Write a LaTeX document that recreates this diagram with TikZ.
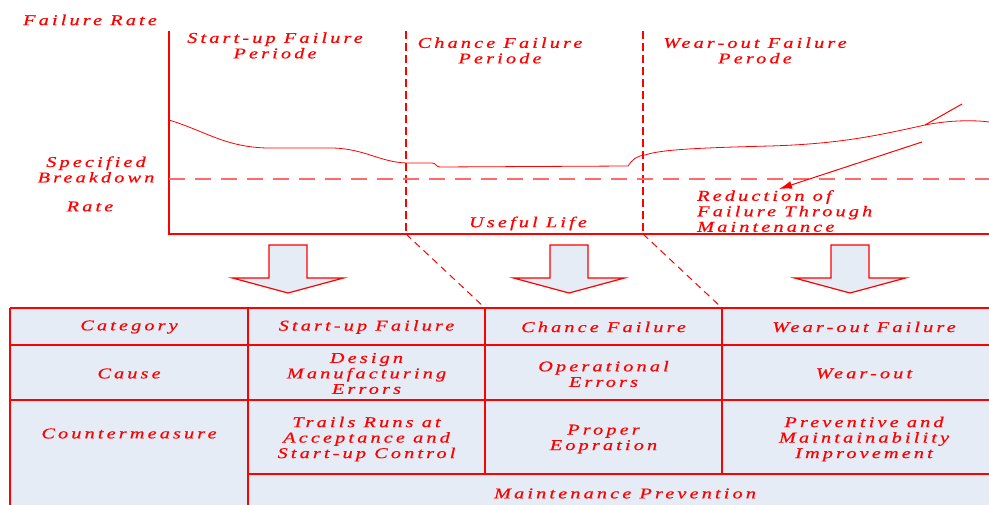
\documentclass[tikz,border=0pt]{standalone}
\usepackage{fontspec}
\setmainfont{Liberation Serif}
\newfontfamily\lblfont{Liberation Serif}[FakeStretch=1.35,LetterSpace=21,FakeBold=0.6]
\usetikzlibrary{arrows.meta}
\definecolor{rd}{HTML}{FF0000}
\definecolor{lrd}{HTML}{FF6A6A}
\definecolor{cellbg}{HTML}{E6ECF6}
\tikzset{
  lbl/.style={text=rd,font=\lblfont\itshape\fontsize{15}{15.5}\selectfont,inner sep=0pt,align=center},
  axisline/.style={draw=rd,line width=1.4pt},
  perdash/.style={draw=rd,line width=1.3pt,dash pattern=on 8pt off 4pt},
  specdash/.style={draw=lrd,line width=1.4pt,dash pattern=on 16pt off 10pt},
  diagdash/.style={draw=rd,line width=1pt,dash pattern=on 7pt off 5pt},
  curve/.style={draw=rd,line width=0.8pt},
  blockarrow/.style={draw=rd,fill=cellbg,line width=1.2pt,line join=miter},
  tabline/.style={draw=rd,line width=2pt},
  tablinev/.style={draw=rd,line width=2.6pt},
}
\begin{document}
\begin{tikzpicture}[x=1pt,y=-1pt]
\useasboundingbox (0,0) rectangle (989,505);
\clip (0,0) rectangle (989,505);
% ---------- chart ----------
\coordinate (ytop) at (169,31);
\coordinate (orig) at (169,234);
\coordinate (xend) at (989,234);
\draw[axisline] (ytop) -- (orig) -- (xend);
\coordinate (p1t) at (406,31);
\coordinate (p1b) at (406,234);
\coordinate (p2t) at (643,31);
\coordinate (p2b) at (643,234);
\draw[perdash] (p1t) -- (p1b);
\draw[perdash] (p2t) -- (p2b);
\coordinate (sbl) at (169,179);
\coordinate (sbr) at (989,179);
\draw[specdash] (sbl) -- (sbr);
% failure-rate curve
\draw[curve] (169,120) .. controls (205,131) and (225,147) .. (267,148)
  -- (333,148) .. controls (365,149) and (380,162) .. (406,163)
  -- (432,163) .. controls (436,163) and (436,167) .. (440,167)
  -- (628,166) .. controls (632,160) and (636,156) .. (645,155)
  .. controls (660,150) and (690,148) .. (770,146)
  .. controls (840,144) and (880,135) .. (925,125) coordinate (kink)
  .. controls (950,120) and (975,120) .. (989,122);
\coordinate (kinkend) at (962,104);
\draw[curve,line width=1pt] (kink) -- (kinkend);
\coordinate (redstart) at (922,142);
\coordinate (redend) at (779,189);
\draw[draw=rd,line width=1pt,-{Latex[length=13pt,width=8pt]}] (redstart) -- (redend);
% chart texts
\node[lbl] (fr) at (90,20) {Failure Rate};
\node[lbl] (sp) at (275,45.5) {Start-up Failure\\Periode};
\node[lbl] (cp) at (500,50.5) {Chance Failure\\Periode};
\node[lbl] (wp) at (755,50.5) {Wear-out Failure\\Perode};
\node[lbl] (sb) at (96,169.5) {Specified\\Breakdown};
\node[lbl] (rt) at (90,206.5) {Rate};
\node[lbl] (ul) at (528,223.5) {Useful Life};
\node[lbl,align=left,anchor=north west] (rf) at (697,190) {Reduction of\\Failure Through\\Maintenance};
% ---------- block arrows ----------
\foreach \cx/\nm in {288/ba1,569/ba2,850/ba3}{
  \draw[blockarrow] (\cx-19,245) -- (\cx+19,245) -- (\cx+19,278) -- (\cx+55.5,278)
    -- (\cx,293) -- (\cx-55.5,278) -- (\cx-19,278) -- cycle;
  \coordinate (\nm) at (\cx,293);
}
% ---------- table ----------
\fill[cellbg] (10,308) rectangle (1010,520);
\coordinate (tl) at (10,308);
\coordinate (c2t) at (248,308);
\coordinate (c3t) at (485,308);
\coordinate (c4t) at (722,308);
\draw[diagdash] (p1b) -- (c3t);
\draw[diagdash] (p2b) -- (c4t);
\draw[tabline] (10,308) -- (1010,308);
\draw[tabline] (10,345) -- (1010,345);
\draw[tabline] (10,400) -- (1010,400);
\draw[tabline] (248,474) -- (1010,474);
\draw[tablinev] (10,308) -- (10,520);
\draw[tablinev] (248,308) -- (248,520);
\draw[tablinev] (485,308) -- (485,474);
\draw[tablinev] (722,308) -- (722,474);
% table texts
\node[lbl] (h1) at (129,327) {Category};
\node[lbl] (h2) at (366.5,327) {Start-up Failure};
\node[lbl] (h3) at (603.5,327) {Chance Failure};
\node[lbl] (h4) at (864,327) {Wear-out Failure};
\node[lbl] (r1) at (129,373.5) {Cause};
\node[lbl] (r2) at (366.5,373.5) {Design\\Manufacturing\\Errors};
\node[lbl] (r3) at (603.5,374) {Operational\\Errors};
\node[lbl] (r4) at (864,373.5) {Wear-out};
\node[lbl] (s1) at (129,433.5) {Countermeasure};
\node[lbl] (s2) at (366.5,439) {Trails Runs at\\Acceptance and\\Start-up Control};
\node[lbl] (s3) at (603.5,439) {Proper\\Eopration};
\node[lbl] (s4) at (864,439) {Preventive and\\Maintainability\\Improvement};
\node[lbl] (mp) at (625,493.5) {Maintenance Prevention};
\end{tikzpicture}
\end{document}
